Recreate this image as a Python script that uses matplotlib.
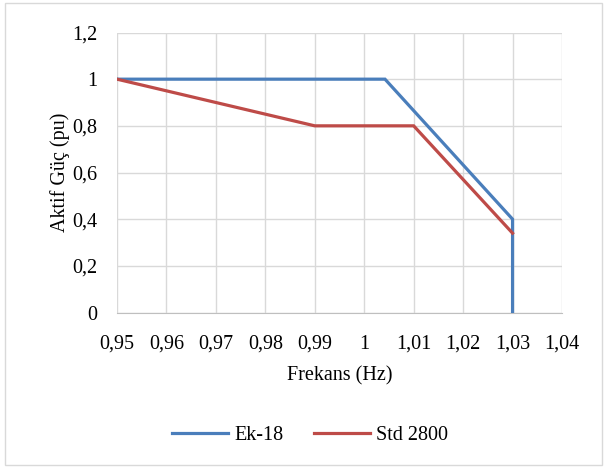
import matplotlib
matplotlib.use("Agg")
import matplotlib.pyplot as plt
from matplotlib.patches import Rectangle

ek18_x = [0.95, 1.0042, 1.03, 1.03]
ek18_y = [1.0, 1.0, 0.40, 0.0]
std_x = [0.95, 0.99, 1.01, 1.03]
std_y = [1.0, 0.80, 0.80, 0.34]
xticks = [0.95, 0.96, 0.97, 0.98, 0.99, 1.00, 1.01, 1.02, 1.03, 1.04]
xtick_labels = ["0,95", "0,96", "0,97", "0,98", "0,99", "1", "1,01", "1,02", "1,03", "1,04"]
yticks = [0, 0.2, 0.4, 0.6, 0.8, 1.0, 1.2]
ytick_labels = ["0", "0,2", "0,4", "0,6", "0,8", "1", "1,2"]

plt.rcParams['font.family'] = ['Liberation Serif', 'DejaVu Serif']
fig = plt.figure(figsize=(6.06, 4.70), dpi=100)
fig.patches.append(Rectangle((5/606, 5/470), 597/606, 462/470, transform=fig.transFigure,
                             fill=False, edgecolor='#D9D9D9', linewidth=1))
ax = fig.add_axes([117/606, 1-312.5/470, 445/606, 280/470])
blue = '#4A7EBB'
red = '#BE4B48'
ax.plot(ek18_x, ek18_y, color=blue, linewidth=2.3, label='Ek-18', solid_joinstyle='miter', zorder=3)
ax.plot(std_x, std_y, color=red, linewidth=2.3, label='Std 2800', solid_joinstyle='miter', zorder=4)
ax.set_xlim(0.95, 1.04)
ax.set_ylim(0, 1.2)
ax.set_xticks(xticks)
ax.set_xticklabels(xtick_labels)
ax.set_yticks(yticks)
ax.set_yticklabels(ytick_labels)
ax.grid(True, color='#D9D9D9', linewidth=1)
ax.set_axisbelow(True)
for s in ['top', 'right', 'left']:
    ax.spines[s].set_visible(False)
ax.spines['bottom'].set_color('#BFBFBF')
ax.tick_params(length=0, labelsize=14.5, colors='#000000')
ax.tick_params(axis='x', pad=16)
ax.tick_params(axis='y', pad=14)
ax.set_xlabel('Frekans (Hz)', fontsize=14.5, labelpad=9)
ax.set_ylabel('Aktif Güç (pu)', fontsize=14.5, labelpad=2)
fig.legend(loc='center', bbox_to_anchor=(310/606, 1-435/470), ncol=2, frameon=False,
           fontsize=14.5, handlelength=2.8, columnspacing=1.5, handletextpad=0.3)
fig.savefig('out.png', dpi=100)
